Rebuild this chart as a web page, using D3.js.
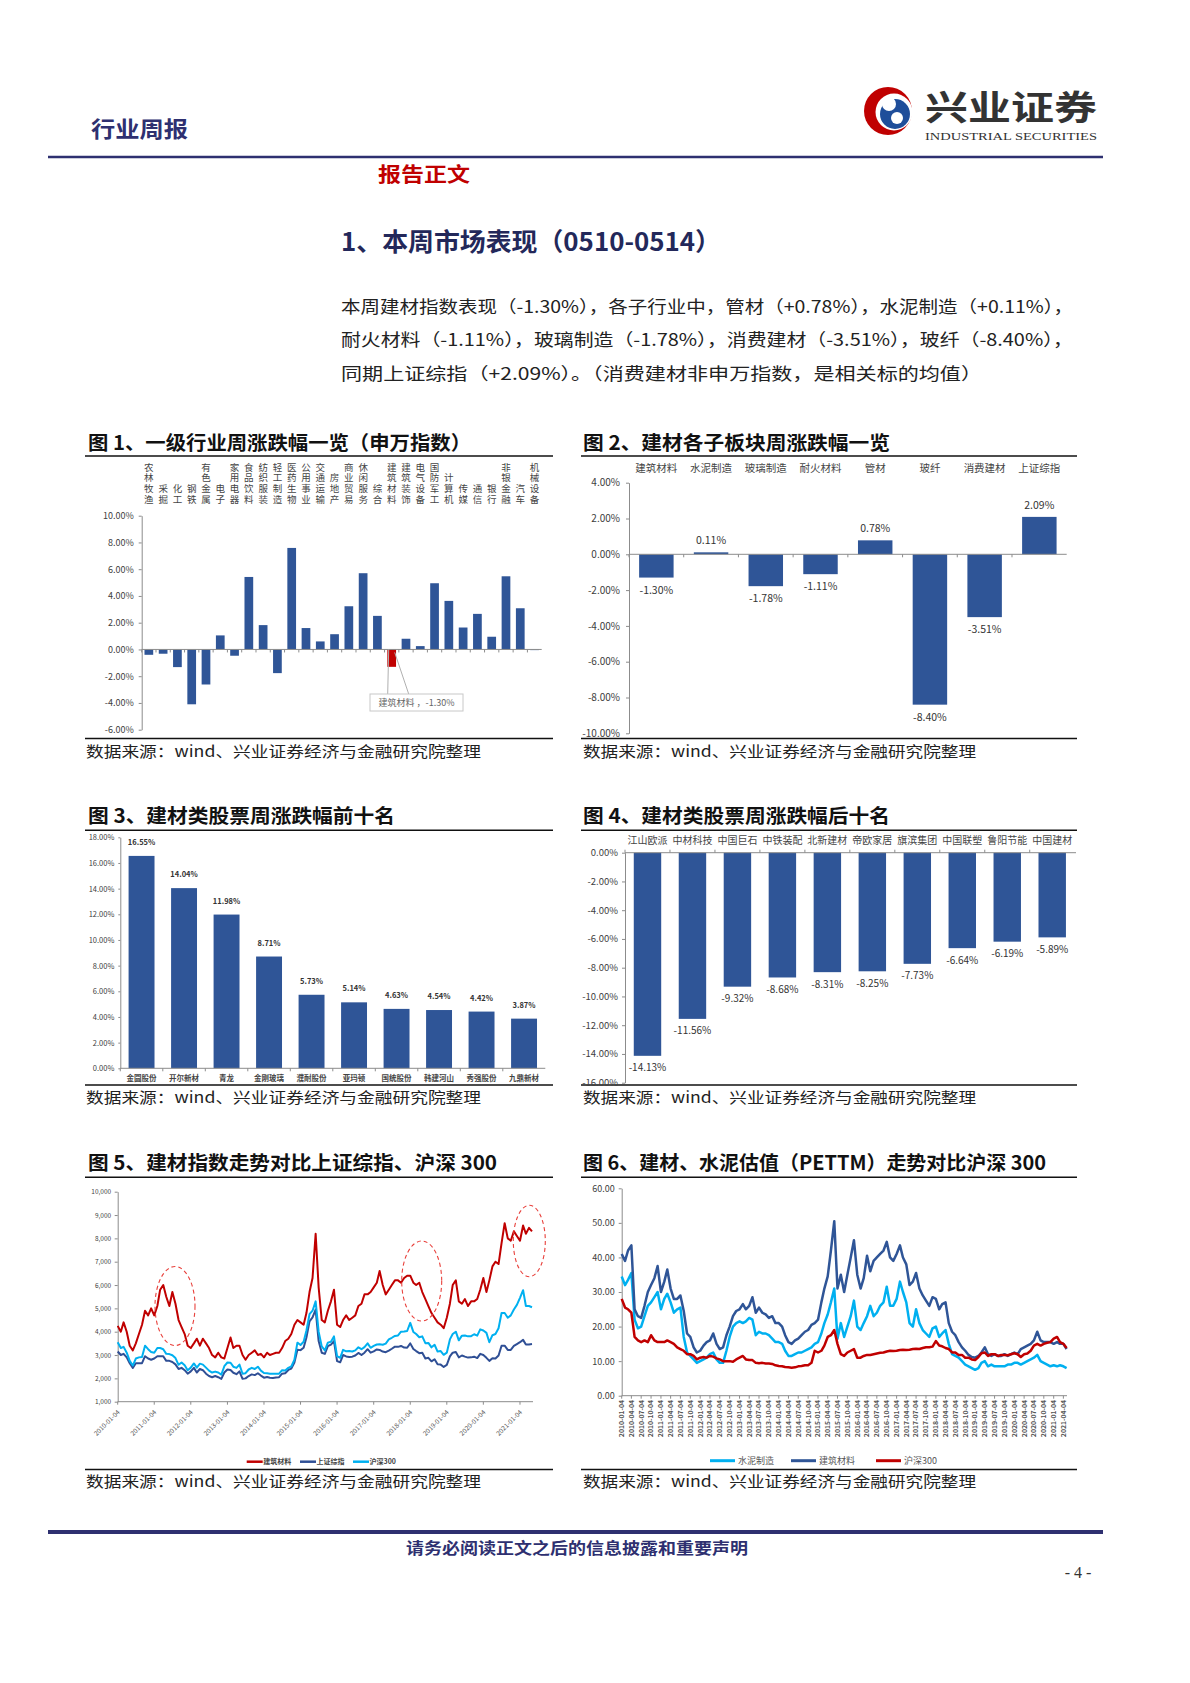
<!DOCTYPE html>
<html><head><meta charset="utf-8">
<script src="https://cdn.jsdelivr.net/npm/d3@7"></script>
<style>
body{margin:0;background:#fff;}
svg{display:block;}
text{font-family:"Noto Sans CJK SC","Noto Sans",sans-serif;}
text.serif{font-family:"Liberation Serif","DejaVu Serif",serif;}
</style></head><body>
<svg id="page" width="1190" height="1683"></svg>
<script>
// ---------- DATA ----------
const industries = ["农林牧渔","采掘","化工","钢铁","有色金属","电子","家用电器","食品饮料","纺织服装","轻工制造","医药生物","公用事业","交通运输","房地产","商业贸易","休闲服务","综合","建筑材料","建筑装饰","电气设备","国防军工","计算机","传媒","通信","银行","非银金融","汽车","机械设备"];
const industryChange = [-0.40,-0.32,-1.32,-4.10,-2.62,1.05,-0.47,5.42,1.82,-1.77,7.59,1.60,0.60,1.14,3.23,5.70,2.51,-1.30,0.80,0.25,4.95,3.63,1.64,2.66,0.95,5.47,3.08,-0.05];
const chart1Ticks = [-6,-4,-2,0,2,4,6,8,10];

const subSectors = ["建筑材料","水泥制造","玻璃制造","耐火材料","管材","玻纤","消费建材","上证综指"];
const subChange = [-1.30,0.11,-1.78,-1.11,0.78,-8.40,-3.51,2.09];
const chart2Ticks = [-10,-8,-6,-4,-2,0,2,4];

const topStocks = ["金圆股份","开尔新材","青龙","金刚玻璃","濮耐股份","亚玛顿","国统股份","韩建河山","秀强股份","九鼎新材"];
const topChange = [16.55,14.04,11.98,8.71,5.73,5.14,4.63,4.54,4.42,3.87];
const chart3Ticks = [0,2,4,6,8,10,12,14,16,18];

const bottomStocks = ["江山欧派","中材科技","中国巨石","中铁装配","北新建材","帝欧家居","旗滨集团","中国联塑","鲁阳节能","中国建材"];
const bottomChange = [-14.13,-11.56,-9.32,-8.68,-8.31,-8.25,-7.73,-6.64,-6.19,-5.89];
const chart4Ticks = [-16,-14,-12,-10,-8,-6,-4,-2,0];

// Chart 5: monthly, 2010-01 .. 2021-05
const bmIndex = [
4250,4000,4400,4000,3400,3200,3500,3900,4300,4900,4700,5000,
4700,5100,5800,6000,5500,5100,5700,5200,4500,4200,3900,3400,
3300,3500,3700,3400,3700,3500,3300,3000,2900,3100,2900,2850,
3300,3750,3300,3400,3400,3000,2800,3000,3100,3200,3000,3050,
2900,3100,3000,3050,3100,3100,3300,3600,3700,3900,4300,4500,
4400,4300,4800,5700,6300,8200,5900,4500,4400,4900,5300,5800,
4300,4200,4500,4700,4500,4600,4700,5100,5200,5600,5600,5700,
5900,6100,6600,6000,5600,5800,6000,6200,6200,6100,6300,6400,
6400,6100,6000,6100,5700,5400,5100,4800,4600,4400,4300,4150,
4600,5200,6000,6200,5300,5200,5400,5100,5300,5300,5400,5800,
6300,5700,6200,6800,7000,6900,7800,8650,8000,7900,8300,8100,
7900,8550,8200,8450,8300];
const shIndex = [
3150,3000,3050,2900,2650,2450,2650,2650,2650,2950,2850,2800,
2850,2950,2950,2950,2750,2750,2700,2600,2400,2450,2350,2200,
2300,2450,2250,2400,2350,2200,2100,2050,2100,2050,1980,2250,
2380,2360,2240,2180,2300,1980,2000,2100,2170,2140,2220,2120,
2030,2060,2030,2020,2040,2050,2200,2220,2360,2420,2680,3230,
3210,3310,3750,4440,4610,4950,3600,3100,3050,3380,3450,3600,
2740,2690,3000,2940,2920,2930,2980,3090,3000,3100,3250,3100,
3160,3240,3220,3150,3120,3190,3270,3360,3350,3390,3320,3310,
3500,3260,3170,3080,3100,2850,2880,2730,2820,2600,2590,2490,
2580,2940,3100,3130,2900,2980,2930,2890,2900,2930,2870,3050,
3000,2880,2750,2860,2850,2980,3400,3400,3220,3220,3390,3470,
3550,3650,3450,3450,3470];
const hs300Index = [
3550,3300,3350,3100,2750,2550,2850,2900,2920,3400,3250,3130,
3100,3300,3300,3250,3050,3040,2990,2870,2580,2680,2560,2350,
2460,2640,2460,2630,2590,2460,2330,2250,2290,2250,2160,2520,
2680,2670,2500,2450,2590,2200,2220,2380,2450,2400,2500,2330,
2230,2220,2200,2200,2200,2200,2350,2340,2450,2510,2800,3530,
3430,3570,4050,4750,4900,5300,4000,3370,3200,3530,3570,3800,
2950,2880,3220,3160,3170,3150,3200,3330,3250,3340,3500,3310,
3390,3450,3460,3440,3490,3670,3740,3820,3840,4000,4010,4030,
4380,3990,3900,3760,3800,3510,3520,3330,3440,3150,3170,3010,
3100,3670,3900,4000,3630,3830,3840,3800,3810,3890,3830,4100,
4050,3950,3550,3850,3900,4150,4800,4800,4600,4700,4950,5150,
5450,5780,5100,5100,5050];
const chart5Ticks = [1000,2000,3000,4000,5000,6000,7000,8000,9000,10000];
const chart5XLabels = ["2010-01-04","2011-01-04","2012-01-04","2013-01-04","2014-01-04","2015-01-04","2016-01-04","2017-01-04","2018-01-04","2019-01-04","2020-01-04","2021-01-04"];

// Chart 6: PE TTM monthly, 2010-01 .. 2021-05
const peCement = [
34.5,32,33.5,35.5,22,19.5,20,23,26,27,28.5,30,
25,28,29.5,27,24,25,25.5,17,12.5,11.5,10.5,9.5,
10,10.5,11,12,12.5,10.5,9.5,9.5,13,17,20,21,
21.5,21,21.5,22.5,22,17.5,18.5,18,18,17.5,16.5,15.5,
15.5,15,13,11.5,11.5,12,12.5,12.5,13,13.5,14,15,
15.5,18,21,23.5,27,31,16.5,21,17,20,23,27.5,
20,19,21,23,26,23,24,26,27,31.5,26,26,
28,33,30,27,21,20,25,21,19,18,17,19.5,
20,17,18,19,15,12,11.5,11,10,9,8.5,8,
7.5,8,9.5,10,8.5,9,8.5,8.5,8.5,8.5,9,9,
9.5,9.5,9,9.5,10,10.5,11,11.8,10,9.5,9,8.5,
8.8,8.5,8.8,8.5,8];
const peBuildMat = [
41,39,42,43.5,25,23,22.5,26,30,32,34,37.5,
30,33,36.5,31,28,28,29,24.5,18,17,14,12.5,
13,14.5,15.5,16,18,15,13.5,14,17.5,20,23,24.5,
25,26.5,25,26,28.5,24,25.5,24,23.5,22.5,23,21,
21,20,17.5,15.5,15,16,16.5,17.5,18.5,19,20.5,21,
22,27,31,34.5,42,50.5,31,35,30,35,40,45,
35,31,34,40.5,36,39,40,41,42,44.5,40,39,
41,43.5,40,38,32,33,35.5,31,29,27.5,26,28.5,
28,25,26.5,27,21,18.5,17.5,15.5,14,13,11.8,11.2,
11,11.5,12.5,14,12,11.5,12,11.5,11.5,12,11.5,12,
12.5,12,13.5,14,14.5,15,16,18.5,16,15.5,15.5,15.5,
15,15.5,15,15,13.5];
const peHs300 = [
28,25.5,25,24,17,16,15.5,16,15.5,17.5,16,15.5,
15.5,15.5,16,15.5,15,14,13.5,13,12,12,11.5,10.5,
11,11.2,11,11.5,11.3,10.8,10.5,10,10,10,9.8,10.5,
11,11.5,10.5,10.3,10.3,9.5,9.4,9.5,9.3,9.3,9.2,8.8,
8.6,8.5,8.3,8.2,8.1,8.2,8.5,8.6,8.8,8.8,9.5,13,
12.5,13,14.5,17,17.5,19,15,12,11.5,12.5,13,13.5,
11,11,11.5,11.8,11.8,12,12.2,12.4,12.5,12.8,13,12.9,
13,13.2,13.3,13.2,13.3,13.5,13.6,13.5,13.8,14,14,14.2,
15.8,14.5,14.3,13.8,13.5,12.5,12.5,11.8,11.8,11,11,10.5,
10.3,11.2,12.3,12.5,11.5,12,12,11.5,11.8,11.8,11.7,12,
12.3,12,11.2,12,12.2,13,14.5,15,14.5,15,15.3,15.5,
16.5,17,15.5,15,13.8];
const chart6Ticks = [0,10,20,30,40,50,60];
const chart6XLabels = ["2010-01-04","2010-04-04","2010-07-04","2010-10-04","2011-01-04","2011-04-04","2011-07-04","2011-10-04","2012-01-04","2012-04-04","2012-07-04","2012-10-04","2013-01-04","2013-04-04","2013-07-04","2013-10-04","2014-01-04","2014-04-04","2014-07-04","2014-10-04","2015-01-04","2015-04-04","2015-07-04","2015-10-04","2016-01-04","2016-04-04","2016-07-04","2016-10-04","2017-01-04","2017-04-04","2017-07-04","2017-10-04","2018-01-04","2018-04-04","2018-07-04","2018-10-04","2019-01-04","2019-04-04","2019-07-04","2019-10-04","2020-01-04","2020-04-04","2020-07-04","2020-10-04","2021-01-04","2021-04-04"];

// ---------- STYLE ----------
const NAVY = "#2e3070", BAR = "#2f5597", RED = "#c00000", CYAN = "#00b0f0";
const svg = d3.select("#page");
const parse = d3.timeParse("%Y-%m-%d");

function txt(x, y, s, o) {
  const t = svg.append("text").attr("x", x).attr("y", y).text(s);
  for (const k in o) t.attr(k, o[k]);
  return t;
}
function hline(x0, x1, y, w, c) {
  svg.append("line").attr("x1", x0).attr("x2", x1).attr("y1", y).attr("y2", y).attr("stroke", c).attr("stroke-width", w);
}
function styleAxis(g, fs) {
  g.selectAll("path,line").attr("stroke", "#8c8c8c").attr("stroke-width", 1);
  g.selectAll("text").attr("font-size", fs).attr("fill", "#404040").attr("font-family", "'Noto Sans CJK SC',sans-serif");
}
function pct(v) { return v.toFixed(2) + "%"; }

// ---------- HEADER ----------
txt(91, 137, "行业周报", {"font-size": 22, "font-weight": 700, fill: NAVY, textLength: 97, lengthAdjust: "spacingAndGlyphs"});
// logo
svg.append("circle").attr("cx", 888).attr("cy", 111).attr("r", 24).attr("fill", RED);
svg.append("circle").attr("cx", 894).attr("cy", 112).attr("r", 18.5).attr("fill", "#fff");
svg.append("circle").attr("cx", 895).attr("cy", 114).attr("r", 15).attr("fill", "#1f4e9a");
svg.append("circle").attr("cx", 889).attr("cy", 104).attr("r", 7).attr("fill", "#fff");
svg.append("circle").attr("cx", 897).attr("cy", 118).attr("r", 6).attr("fill", "#fff");
txt(925, 120, "兴业证券", {"font-size": 34, "font-weight": 700, fill: "#333", textLength: 172, lengthAdjust: "spacingAndGlyphs"});
txt(925, 139.5, "INDUSTRIAL SECURITIES", {"class": "serif", "font-size": 10.5, fill: "#333", textLength: 172, lengthAdjust: "spacingAndGlyphs"});
hline(48, 1103, 157, 2.5, NAVY);
txt(378, 182, "报告正文", {"font-size": 20, "font-weight": 700, fill: RED, textLength: 92, lengthAdjust: "spacingAndGlyphs"});
txt(341, 251, "1、本周市场表现（0510-0514）", {"font-size": 25, "font-weight": 700, fill: "#23285a", textLength: 380, lengthAdjust: "spacingAndGlyphs"});
const para = [
  ["本周建材指数表现（-1.30%），各子行业中，管材（+0.78%），水泥制造（+0.11%），", 732],
  ["耐火材料（-1.11%），玻璃制造（-1.78%），消费建材（-3.51%），玻纤（-8.40%），", 732],
  ["同期上证综指（+2.09%）。（消费建材非申万指数，是相关标的均值）", 641]];
para.forEach((p, i) => txt(341, 312.5 + i * 33.5, p[0], {"font-size": 17, fill: "#222", textLength: p[1], lengthAdjust: "spacingAndGlyphs"}));

// ---------- PANEL FRAMES ----------
const L = [85, 553], R = [581, 1077];
const titles = [
  [88, 450, "图 1、一级行业周涨跌幅一览（申万指数）", 383],
  [583, 450, "图 2、建材各子板块周涨跌幅一览", 307],
  [88, 823, "图 3、建材类股票周涨跌幅前十名", 307],
  [583, 823, "图 4、建材类股票周涨跌幅后十名", 307],
  [88, 1170, "图 5、建材指数走势对比上证综指、沪深 300", 409],
  [583, 1170, "图 6、建材、水泥估值（PETTM）走势对比沪深 300", 463]];
titles.forEach(t => txt(t[0], t[1], t[2], {"font-size": 19.5, "font-weight": 700, fill: "#111", textLength: t[3], lengthAdjust: "spacingAndGlyphs"}));
[[456, 738.5], [830.3, 1085], [1177.3, 1469.5]].forEach(r => {
  hline(L[0], L[1], r[0], 1.5, "#111"); hline(R[0], R[1], r[0], 1.5, "#111");
  hline(L[0], L[1], r[1], 1.5, "#111"); hline(R[0], R[1], r[1], 1.5, "#111");
});
[757, 1103, 1487].forEach(y => {
  txt(86, y, "数据来源：wind、兴业证券经济与金融研究院整理", {"font-size": 15, fill: "#222", textLength: 395, lengthAdjust: "spacingAndGlyphs"});
  txt(583, y, "数据来源：wind、兴业证券经济与金融研究院整理", {"font-size": 15, fill: "#222", textLength: 393, lengthAdjust: "spacingAndGlyphs"});
});

// ---------- CHART 1 ----------
{
  const y = d3.scaleLinear().domain([-6, 10]).range([729.7, 515.7]);
  const x = d3.scaleBand().domain(industries).range([141.7, 541.7]).paddingInner(0.39).paddingOuter(0.195);
  const g = svg.append("g").attr("transform", "translate(141.7,0)")
    .call(d3.axisLeft(y).tickValues(chart1Ticks).tickFormat(pct).tickSize(3).tickPadding(5).tickSizeOuter(0));
  styleAxis(g, 9);
  svg.append("g").selectAll("rect").data(industries).join("rect")
    .attr("x", d => x(d)).attr("width", x.bandwidth())
    .attr("y", (d, i) => y(Math.max(0, industryChange[i])))
    .attr("height", (d, i) => Math.abs(y(industryChange[i]) - y(0)))
    .attr("fill", d => d === "建筑材料" ? RED : BAR);
  hline(141.7, 541.7, y(0), 1, "#8c8c8c");
  const step = x.step();
  industries.forEach((d, i) => {
    const bx = x(d) - (step - x.bandwidth()) / 2;
    svg.append("line").attr("x1", bx).attr("x2", bx).attr("y1", y(0)).attr("y2", y(0) + 3).attr("stroke", "#8c8c8c");
    const cx = x(d) + x.bandwidth() / 2;
    svg.append("text").attr("x", cx).attr("y", 505)
      .attr("writing-mode", "vertical-rl").attr("text-anchor", "end")
      .attr("letter-spacing", 1.17).attr("font-size", 9.5).attr("fill", "#444").text(d);
  });
  // callout
  const cx = x("建筑材料") + x.bandwidth() / 2;
  svg.append("line").attr("x1", cx - 3).attr("y1", y(0)).attr("x2", cx - 4).attr("y2", 694).attr("stroke", "#b0b0b0");
  svg.append("line").attr("x1", cx + 3).attr("y1", y(0) + 3).attr("x2", cx + 17).attr("y2", 694).attr("stroke", "#b0b0b0");
  svg.append("rect").attr("x", 370).attr("y", 694).attr("width", 93).attr("height", 17).attr("fill", "#fff").attr("stroke", "#c8c8c8");
  txt(416.5, 706, "建筑材料 ，" + industryChange[17].toFixed(2) + "%", {"font-size": 9, fill: "#666", "text-anchor": "middle"});
}

// ---------- CHART 2 ----------
{
  const y = d3.scaleLinear().domain([-10, 4]).range([733.3, 482.7]);
  const x = d3.scaleBand().domain(subSectors).range([629, 1066.7]).paddingInner(0.37).paddingOuter(0.185);
  const g = svg.append("g").attr("transform", "translate(629,0)")
    .call(d3.axisLeft(y).tickValues(chart2Ticks).tickFormat(pct).tickSize(3).tickPadding(6).tickSizeOuter(0));
  styleAxis(g, 10);
  svg.append("g").selectAll("rect").data(subSectors).join("rect")
    .attr("x", d => x(d)).attr("width", x.bandwidth())
    .attr("y", (d, i) => y(Math.max(0, subChange[i])))
    .attr("height", (d, i) => Math.abs(y(subChange[i]) - y(0)))
    .attr("fill", BAR);
  hline(629, 1066.7, y(0), 1, "#8c8c8c");
  subSectors.forEach((d, i) => {
    const bx = x(d) - (x.step() - x.bandwidth()) / 2;
    svg.append("line").attr("x1", bx).attr("x2", bx).attr("y1", y(0)).attr("y2", y(0) + 3).attr("stroke", "#8c8c8c");
    const cx = x(d) + x.bandwidth() / 2;
    txt(cx, 472, d, {"font-size": 10.5, fill: "#444", "text-anchor": "middle"});
    const v = subChange[i];
    txt(cx, v >= 0 ? y(v) - 8 : y(v) + 16, pct(v), {"font-size": 10.5, fill: "#333", "text-anchor": "middle"});
  });
}

// ---------- CHART 3 ----------
{
  const y = d3.scaleLinear().domain([0, 18]).range([1068.3, 837.3]);
  const x = d3.scaleBand().domain(topStocks).range([120.3, 545.3]).paddingInner(0.39).paddingOuter(0.195);
  const g = svg.append("g").attr("transform", "translate(120.3,0)")
    .call(d3.axisLeft(y).tickValues(chart3Ticks).tickFormat(pct).tickSize(2).tickPadding(4).tickSizeOuter(0));
  styleAxis(g, 7.5);
  svg.append("g").selectAll("rect").data(topStocks).join("rect")
    .attr("x", d => x(d)).attr("width", x.bandwidth())
    .attr("y", (d, i) => y(topChange[i]))
    .attr("height", (d, i) => y(0) - y(topChange[i]))
    .attr("fill", BAR);
  hline(120.3, 545.3, y(0), 1, "#8c8c8c");
  topStocks.forEach((d, i) => {
    const bx = x(d) - (x.step() - x.bandwidth()) / 2;
    svg.append("line").attr("x1", bx).attr("x2", bx).attr("y1", y(0)).attr("y2", y(0) + 3).attr("stroke", "#8c8c8c");
    const cx = x(d) + x.bandwidth() / 2;
    txt(cx, 1080.5, d, {"font-size": 7.5, "font-weight": 700, fill: "#444", "text-anchor": "middle"});
    txt(cx, y(topChange[i]) - 11, pct(topChange[i]), {"font-size": 7.5, "font-weight": 700, fill: "#333", "text-anchor": "middle"});
  });
}

// ---------- CHART 4 ----------
{
  const y = d3.scaleLinear().domain([-16, 0]).range([1082.7, 852.7]);
  const x = d3.scaleBand().domain(bottomStocks).range([625, 1074.7]).paddingInner(0.39).paddingOuter(0.195);
  const g = svg.append("g").attr("transform", "translate(625,0)")
    .call(d3.axisLeft(y).tickValues(chart4Ticks).tickFormat(pct).tickSize(3).tickPadding(4).tickSizeOuter(0));
  styleAxis(g, 9.5);
  svg.append("g").selectAll("rect").data(bottomStocks).join("rect")
    .attr("x", d => x(d)).attr("width", x.bandwidth())
    .attr("y", y(0))
    .attr("height", (d, i) => y(bottomChange[i]) - y(0))
    .attr("fill", BAR);
  hline(625, 1076, y(0), 1, "#8c8c8c");
  bottomStocks.forEach((d, i) => {
    const bx = x(d) - (x.step() - x.bandwidth()) / 2;
    svg.append("line").attr("x1", bx).attr("x2", bx).attr("y1", y(0)).attr("y2", y(0) - 3).attr("stroke", "#8c8c8c");
    const cx = x(d) + x.bandwidth() / 2;
    txt(cx, 843.5, d, {"font-size": 10, fill: "#444", "text-anchor": "middle"});
    txt(cx, y(bottomChange[i]) + 15.5, pct(bottomChange[i]), {"font-size": 10, fill: "#333", "text-anchor": "middle"});
  });
}

// ---------- CHART 5 ----------
{
  const start = parse("2010-01-04");
  const dates = bmIndex.map((_, i) => d3.timeMonth.offset(start, i));
  const x = d3.scaleTime().domain([start, dates[dates.length - 1]]).range([117.7, 532]);
  const y = d3.scaleLinear().domain([1000, 10000]).range([1401.7, 1191.7]);
  const g = svg.append("g").attr("transform", "translate(117.7,0)")
    .call(d3.axisLeft(y).tickValues(chart5Ticks).tickFormat(d3.format(",")).tickSize(3).tickPadding(3.5).tickSizeOuter(0));
  styleAxis(g, 6.5);
  hline(117.7, 533, 1401.7, 1, "#8c8c8c");
  chart5XLabels.forEach(s => {
    const px = x(parse(s));
    svg.append("line").attr("x1", px).attr("x2", px).attr("y1", 1401.7).attr("y2", 1404.7).attr("stroke", "#8c8c8c");
    txt(0, 0, s, {"font-size": 6.5, fill: "#555", "text-anchor": "end", dy: "0.35em",
      transform: `translate(${px + 1},${1411}) rotate(-45)`});
  });
  const line = d3.line().x((d, i) => x(dates[i])).y(d => y(d));
  [[shIndex, "#2f4f95"], [hs300Index, CYAN], [bmIndex, RED]].forEach(s => {
    svg.append("path").attr("d", line(s[0])).attr("fill", "none").attr("stroke", s[1]).attr("stroke-width", 2).attr("stroke-linejoin", "round");
  });
  [[175, 1306, 20, 39.5], [421.7, 1281, 20, 40], [529.3, 1241, 16, 35.7]].forEach(e => {
    svg.append("ellipse").attr("cx", e[0]).attr("cy", e[1]).attr("rx", e[2]).attr("ry", e[3])
      .attr("fill", "none").attr("stroke", "#e8413c").attr("stroke-width", 1.1).attr("stroke-dasharray", "4,3");
  });
  [[246.7, "建筑材料", RED], [300, "上证综指", "#2f4f95"], [353, "沪深300", CYAN]].forEach(l => {
    hline(l[0], l[0] + 16, 1461.7, 2.5, l[2]);
    txt(l[0] + 16.5, 1464.2, l[1], {"font-size": 7, "font-weight": 700, fill: "#444"});
  });
}

// ---------- CHART 6 ----------
{
  const start = parse("2010-01-04");
  const dates = peBuildMat.map((_, i) => d3.timeMonth.offset(start, i));
  const x = d3.scaleTime().domain([start, dates[dates.length - 1]]).range([621.7, 1066.6]);
  const y = d3.scaleLinear().domain([0, 60]).range([1395.7, 1188.3]);
  const g = svg.append("g").attr("transform", "translate(621.7,0)")
    .call(d3.axisLeft(y).tickValues(chart6Ticks).tickFormat(d3.format(".2f")).tickSize(3).tickPadding(4).tickSizeOuter(0));
  styleAxis(g, 9);
  hline(621.7, 1067, 1395.7, 1, "#8c8c8c");
  chart6XLabels.forEach(s => {
    const px = x(parse(s));
    svg.append("line").attr("x1", px).attr("x2", px).attr("y1", 1395.7).attr("y2", 1398.7).attr("stroke", "#8c8c8c");
    txt(0, 0, s, {"font-size": 6.8, "font-weight": 700, fill: "#555", "text-anchor": "end", dy: "0.35em",
      transform: `translate(${px},${1400}) rotate(-90)`});
  });
  const line = d3.line().x((d, i) => x(dates[i])).y(d => y(d));
  [[peCement, CYAN], [peBuildMat, "#2f5597"], [peHs300, RED]].forEach(s => {
    svg.append("path").attr("d", line(s[0])).attr("fill", "none").attr("stroke", s[1]).attr("stroke-width", 2.5).attr("stroke-linejoin", "round");
  });
  [[710, "水泥制造", CYAN], [791, "建筑材料", "#2f5597"], [876, "沪深300", RED]].forEach(l => {
    hline(l[0], l[0] + 25, 1460.7, 3, l[2]);
    txt(l[0] + 28, 1464, l[1], {"font-size": 9, fill: "#555"});
  });
}

// ---------- FOOTER ----------
hline(48, 1103, 1532, 4, NAVY);
txt(577, 1554, "请务必阅读正文之后的信息披露和重要声明", {"font-size": 15.5, "font-weight": 700, fill: NAVY, "text-anchor": "middle", textLength: 342, lengthAdjust: "spacingAndGlyphs"});
txt(1078, 1578, "- 4 -", {"class": "serif", "font-size": 16, fill: "#333", "text-anchor": "middle"});
</script></body></html>
